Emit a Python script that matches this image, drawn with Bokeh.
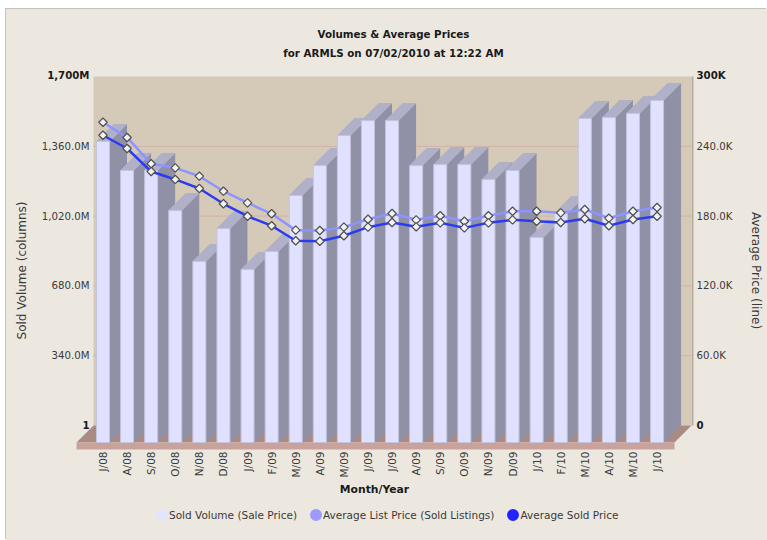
from bokeh.plotting import figure
from bokeh.models import (Range1d, LinearAxis, FixedTicker, Label, Legend, LegendItem)
from bokeh.embed import file_html
from bokeh.resources import INLINE

months = ["J/08","A/08","S/08","O/08","N/08","D/08","J/09","F/09","M/09","A/09","M/09","J/09",
          "J/09","A/09","S/09","O/09","N/09","D/09","J/10","F/10","M/10","A/10","M/10","J/10"]
volume = [1466,1325,1325,1130,882,1042,843,930,1203,1349,1495,1568,
          1568,1349,1354,1354,1281,1325,999,1115,1578,1583,1603,1666]
list_price = [260.7,247.6,225.0,221.5,214.3,201.4,191.4,182.0,167.9,167.6,170.5,177.3,
              182.2,176.8,180.3,175.6,180.3,184.2,184.2,182.8,185.7,178.2,184.2,187.4]
sold_price = [249.5,238.1,218.3,211.5,203.7,190.6,179.9,171.7,158.8,158.4,163.1,170.5,
              174.5,170.8,174.2,169.9,174.2,176.8,175.6,174.5,177.7,171.7,177.1,179.9]
vol_ticks = [340,680,1020,1360]
vol_tick_labels = ["340.0M","680.0M","1,020.0M","1,360.0M"]
price_ticks = [60,120,180,240]
price_tick_labels = ["60.0K","120.0K","180.0K","240.0K"]

BG="#ECE8E0"; WALL="#D5CAB8"; FRONT="#E0E0FF"; SIDE="#9090A6"; TOP="#B0B0C8"
GRID="#CFB2A6"; FLOOR_F="#C9A39B"; FLOOR_T="#A98B83"; TXT="#3A3A3A"; DARK="#1A1A1A"
LIST_C="#8C94FF"; SOLD_C="#2B3BF5"
FONT="DejaVu Sans"

# picture-pixel layout: figure origin, and a large frame so annotations are not clipped
OX,OY=6,9
W,H=761,531
FL,FR,FT,FB=30,732,10,530
PXX=24.09; CX0=102.5      # px per category, px of first category
PXY=349/1700; Y0=425      # px per volume unit, px of zero on the wall
def xd(X): return (X-CX0)/PXX
def yd(Y): return (Y0-Y)/PXY
DX=17/PXX; DY=17/PXY
HALF=6.5/PXX
base=-DY

p=figure(width=W,height=H,output_backend="svg",toolbar_location=None,margin=(OY,0,0,OX),
         x_range=Range1d(xd(FL),xd(FR)),y_range=Range1d(yd(FB),yd(FT)),
         min_border_left=FL-OX,min_border_right=OX+W-FR,min_border_top=FT-OY,min_border_bottom=OY+H-FB,
         background_fill_alpha=0,border_fill_alpha=0,outline_line_color=None)
p.styles={"background-color":BG,"box-shadow":"-1px -1px 0 #C6C2B8"}
p.extra_y_ranges={"price":Range1d(yd(FB)*300/1700,yd(FT)*300/1700)}
p.grid.visible=False

# back wall, with its darker right edge
wl=xd(93); wr=xd(691); wr2=xd(693); fl=xd(76); fr=xd(674); fbot=yd(449)
p.quad(left=[wr],right=[wr2],bottom=[0],top=[1700],fill_color="#B5AD9E",line_color=None)
p.quad(left=[wl],right=[wr],bottom=[0],top=[1700],fill_color=WALL,line_color=None)
p.segment(x0=[wl]*len(vol_ticks),x1=[wr]*len(vol_ticks),y0=vol_ticks,y1=vol_ticks,line_color=GRID,line_width=1)
# floor
p.patch([fl,wl,wr,fr],[base,0,0,base],fill_color=FLOOR_T,line_color=None)
p.quad(left=[fl],right=[fr],bottom=[fbot],top=[base],fill_color=FLOOR_F,line_color=None)

# 3-D columns, painted left to right
xs=[];ys=[];fills=[];lines=[]
for i,v in enumerate(volume):
    l=i-HALF; r=i+HALF; t=v+base
    xs.append([r,r+DX,r+DX,r]); ys.append([base,0,t+DY,t]); fills.append(SIDE); lines.append(SIDE)
    xs.append([l,l+DX,r+DX,r]); ys.append([t,t+DY,t+DY,t]); fills.append(TOP); lines.append(TOP)
    xs.append([l,l,r,r]); ys.append([base,t,t,base]); fills.append(FRONT); lines.append("#C4C4DE")
p.patches(xs,ys,fill_color=fills,line_color=lines,line_width=1)

# price lines
idx=list(range(len(months)))
p.line(idx,list_price,y_range_name="price",line_color=LIST_C,line_width=2.5)
p.line(idx,sold_price,y_range_name="price",line_color=SOLD_C,line_width=2.5)
for s in (list_price,sold_price):
    p.scatter(idx,s,y_range_name="price",marker="square",angle=0.7854,size=6,fill_color="#F2F2F2",line_color="#505050",line_width=1.2)

# axes
ax=p.xaxis[0]
ax.ticker=FixedTicker(ticks=idx)
ax.major_label_overrides={i:m for i,m in enumerate(months)}
ax.major_label_orientation=1.5708
ax.major_label_standoff=-(FB-451)
ax.major_tick_out=0; ax.major_tick_in=0; ax.minor_tick_out=0; ax.minor_tick_in=0
ax.major_tick_line_color=None; ax.minor_tick_line_color=None; ax.axis_line_color=None
ax.major_label_text_font=FONT; ax.major_label_text_font_size="10.5px"; ax.major_label_text_color=TXT

ay=p.yaxis[0]
ay.ticker=FixedTicker(ticks=vol_ticks)
ay.major_label_overrides=dict(zip(vol_ticks,vol_tick_labels))
ay.major_label_standoff=-(89-FL)
ay.major_tick_out=0; ay.major_tick_in=0; ay.minor_tick_out=0; ay.minor_tick_in=0
ay.major_tick_line_color=None; ay.minor_tick_line_color=None; ay.axis_line_color=None
ay.major_label_text_font=FONT; ay.major_label_text_font_size="10.2px"; ay.major_label_text_color=TXT
ay.axis_label="Sold Volume (columns)"
ay.axis_label_text_font=FONT; ay.axis_label_text_font_size="12px"; ay.axis_label_text_font_style="normal"; ay.axis_label_text_color=TXT
ay.axis_label_standoff=10

ar=LinearAxis(y_range_name="price",ticker=FixedTicker(ticks=price_ticks),
              major_label_overrides=dict(zip(price_ticks,price_tick_labels)),
              major_label_standoff=-(FR-696),major_tick_out=0,major_tick_in=0,minor_tick_out=0,minor_tick_in=0,
              major_tick_line_color=None,minor_tick_line_color=None,axis_line_color=None,
              major_label_text_font=FONT,major_label_text_font_size="10.2px",major_label_text_color=TXT,
              axis_label="Average Price (line)",axis_label_text_font=FONT,axis_label_text_font_size="12px",
              axis_label_text_font_style="normal",axis_label_text_color=TXT,axis_label_standoff=14)
p.add_layout(ar,"right")

def lab(text,X,Y,align="center",bold=True,color=DARK,size="10.3px"):
    p.add_layout(Label(x=X-FL,y=FB-Y,x_units="screen",y_units="screen",text=text,text_align=align,
                       text_baseline="middle",text_font=FONT,text_font_size=size,
                       text_font_style="bold" if bold else "normal",text_color=color))
lab("Volumes & Average Prices",393,33)
lab("for ARMLS on 07/02/2010 at 12:22 AM",393,52)
lab("Month/Year",374,489,size="10.8px")
lab("1,700M",89,75,"right",size="10.2px")
lab("1",89,424,"right",size="10.2px")
lab("300K",696,75,"left",size="10.2px")
lab("0",696,424,"left",size="10.2px")

# legend: a thick outline brings the small legend glyph up to the reference's dot size
nan=float("nan")
r1=p.circle([nan],[nan],radius=1,fill_color="#E4E4FF",line_color="#E4E4FF",line_width=6)
r2=p.circle([nan],[nan],radius=1,fill_color="#9A9AFF",line_color="#9A9AFF",line_width=6)
r3=p.circle([nan],[nan],radius=1,fill_color="#2222FF",line_color="#2222FF",line_width=6)
leg=Legend(items=[LegendItem(label="Sold Volume (Sale Price)",renderers=[r1]),
                  LegendItem(label="Average List Price (Sold Listings)",renderers=[r2]),
                  LegendItem(label="Average Sold Price",renderers=[r3])],
           orientation="horizontal",location=(154-FL,FB-522),glyph_width=15,glyph_height=15,
           label_standoff=0,spacing=11,padding=0,margin=0,background_fill_alpha=0,border_line_color=None,
           label_text_font=FONT,label_text_font_size="10.5px",label_text_color=TXT)
p.add_layout(leg)

open("out.html","w").write(file_html(p,INLINE))
